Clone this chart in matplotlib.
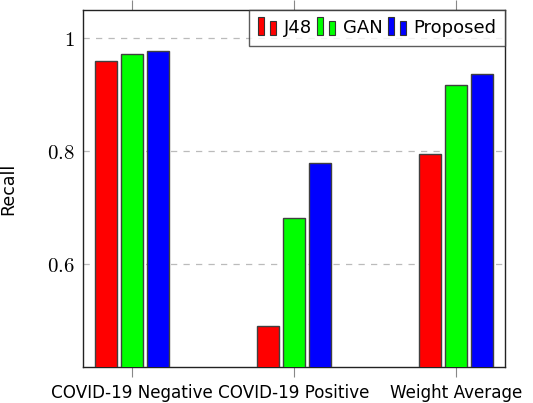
import numpy as np
import matplotlib
matplotlib.use("Agg")
import matplotlib.pyplot as plt
from matplotlib.patches import Rectangle

categories = ["COVID-19 Negative", "COVID-19 Positive", "Weight Average"]
methods = ["J48", "GAN", "Proposed"]
j48 = [0.960, 0.491, 0.796]
gan = [0.972, 0.681, 0.917]
proposed = [0.978, 0.780, 0.936]
colors = ["#ff0000", "#00ff00", "#0000ff"]
yticks = [0.6, 0.8, 1.0]
yticklabels = ["$0.6$", "$0.8$", "$1$"]

plt.rcParams["mathtext.fontset"] = "cm"


# legend picture like pgfplots ybar: two small bars
class TwoBars:
    def legend_artist(self, legend, orig_handle, fontsize, handlebox):
        x0, y0 = -handlebox.xdescent, -handlebox.ydescent
        w, h = handlebox.width, handlebox.height
        fc = orig_handle.get_facecolor()
        tr = handlebox.get_transform()
        r1 = Rectangle((x0, y0 - 0.15 * h), w * 0.3, h * 1.45, facecolor=fc,
                       edgecolor="#333333", lw=0.8, transform=tr)
        r2 = Rectangle((x0 + w * 0.6, y0 - 0.15 * h), w * 0.3, h * 1.1, facecolor=fc,
                       edgecolor="#333333", lw=0.8, transform=tr)
        handlebox.add_artist(r1)
        handlebox.add_artist(r2)
        return r1


fig = plt.figure(figsize=(5.33, 4.03), dpi=100)
ax = fig.add_axes([0.1557, 0.0893, 0.7918, 0.8857])

x = np.arange(len(categories))
width = 0.134
step = 0.161
bars = []
for i, (vals, c, name) in enumerate(zip([j48, gan, proposed], colors, methods)):
    b = ax.bar(x + (i - 1) * step, vals, width, color=c, edgecolor="#404040",
               linewidth=1.0, label=name, zorder=3)
    bars.append(b)

ax.set_xlim(-0.302, 2.302)
ax.set_ylim(0.418, 1.05)
ax.set_xticks(x)
ax.set_xticklabels(categories, fontsize=12.1)
ax.set_yticks(yticks)
ax.set_yticklabels(yticklabels, fontsize=15)
ax.tick_params(axis="x", direction="out", length=7, top=True, color="#888888",
               pad=5, width=0.8)
ax.tick_params(axis="y", length=0, pad=6)
ax.yaxis.grid(True, linestyle=(0, (5, 5)), color="#bbbbbb", linewidth=0.9, zorder=0)
ax.set_axisbelow(True)
for s in ax.spines.values():
    s.set_linewidth(1.0)
    s.set_color("#222222")

ax.set_ylabel("Recall", fontsize=12.5)
ax.yaxis.set_label_coords(-0.155, 0.5)

handles = [b.patches[0] for b in bars]
leg = ax.legend(handles, methods, handler_map={type(handles[0]): TwoBars()},
                loc="upper right", ncol=3, fontsize=13, frameon=True, fancybox=False,
                edgecolor="#333333", handlelength=1.1, handletextpad=0.3,
                columnspacing=0.3, borderaxespad=0.0, borderpad=0.5)
leg.get_frame().set_linewidth(1.0)

fig.savefig("out.png", dpi=100)
